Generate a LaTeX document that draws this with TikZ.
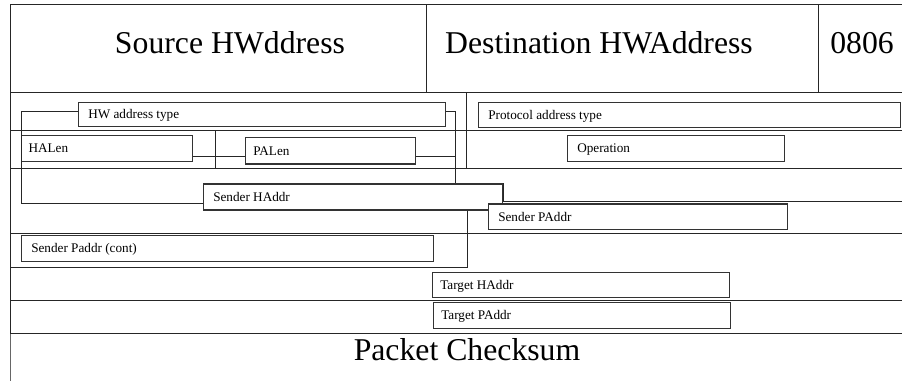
\documentclass[tikz,border=0pt]{standalone}
\usepackage{fontspec}
\setmainfont{Liberation Serif}
\begin{document}
\begin{tikzpicture}[x=0.75pt,y=-0.75pt,
  rule/.style={draw=black!85, line width=0.75pt},
  wire/.style={draw=black!85, line width=0.75pt},
  fieldbox/.style={draw=black!80, line width=0.9pt, fill=white, rectangle,
    inner sep=0pt, anchor=north west},
  fieldtxt/.style={anchor=west, inner sep=0pt,
    font=\fontsize{9.9}{12}\selectfont, text height=6.5pt, text depth=0pt},
  bigtxt/.style={anchor=base, inner sep=0pt, font=\fontsize{23.8}{28}\selectfont}]
\useasboundingbox (0,0) rectangle (902,381);

% frame and row rules
\draw[rule] (902,5) -- (10,5) -- (10,333);
\draw[draw=black!60, line width=0.75pt] (10,333) -- (10,381);
\draw[rule] (426,5) -- (426,93);
\draw[rule] (818,5) -- (818,93);
\draw[rule] (10,93) -- (902,93);
\draw[rule] (466,93) -- (466,168);
\draw[rule] (10,131) -- (902,131);
\draw[rule] (215,131) -- (215,168);
\draw[rule] (10,168) -- (902,168);
\draw[rule] (10,233) -- (902,233);
\draw[rule] (10,300) -- (902,300);
\draw[rule] (10,333) -- (902,333);

% header texts
\node[bigtxt] (src) at (230,53.3) {Source HWddress};
\node[bigtxt] (dst) at (599,53.3) {Destination HWAddress};
\node[bigtxt] (etype) at (862,53.3) {0806};
\node[bigtxt] (csum) at (467,360) {Packet Checksum};

% field boxes
\node[fieldbox, minimum width=275.25pt, minimum height=18pt] (hwtype) at (78,102) {};
\node[fieldbox, minimum width=316.5pt, minimum height=18.75pt] (prtype) at (478,102) {};
\node[fieldbox, minimum width=128.25pt, minimum height=19.3pt] (halen) at (21,135) {};
\node[fieldbox, minimum width=127.5pt, minimum height=19.5pt] (palen) at (245,137.3) {};
\node[fieldbox, minimum width=162.75pt, minimum height=19.3pt] (oper) at (567,135) {};
\node[fieldbox, minimum width=224.25pt, minimum height=19.5pt] (shaddr) at (203,183.3) {};

% connector attachment points
\coordinate (k) at (455,0);
\coordinate (hwW) at ([yshift=2.5pt]hwtype.west);
\coordinate (hwE) at ([yshift=2.5pt]hwtype.east);
\coordinate (haE) at ([yshift=-5.9pt]halen.east);
\coordinate (shW) at ([yshift=-4.8pt]shaddr.west);

% connectors between the fields
\draw[wire] (hwW) -- (hwW -| halen.west) |- (shW);
\draw[wire] (hwE) -| (k |- shaddr.north);
\draw[wire] (haE) -- (haE -| palen.west);
\draw[wire] (haE -| palen.east) -- (haE -| k);
\draw[rule] (shaddr.north east) |- (902,201);
\draw[rule] (467,0 |- shaddr.south) -- (467,267) -- (10,267);

\node[fieldbox, minimum width=224.25pt, minimum height=19.3pt] (spaddr) at (488,203.3) {};
\node[fieldbox, minimum width=309pt, minimum height=19.3pt] (spcont) at (21,235) {};
\node[fieldbox, minimum width=222.75pt, minimum height=18.75pt] (thaddr) at (432,272) {};
\node[fieldbox, minimum width=222.75pt, minimum height=19.5pt] (tpaddr) at (433,302) {};

% field labels
\node[fieldtxt] (hwtype-t) at ([xshift=7.5pt]hwtype.west) {HW address type};
\node[fieldtxt] (prtype-t) at ([xshift=7.5pt]prtype.west) {Protocol address type};
\node[fieldtxt] (halen-t) at ([xshift=5.5pt]halen.west) {HALen};
\node[fieldtxt] (palen-t) at ([xshift=6pt]palen.west) {PALen};
\node[fieldtxt] (oper-t) at ([xshift=7.5pt]oper.west) {Operation};
\node[fieldtxt] (shaddr-t) at ([xshift=7.5pt]shaddr.west) {Sender HAddr};
\node[fieldtxt] (spaddr-t) at ([xshift=7.5pt]spaddr.west) {Sender PAddr};
\node[fieldtxt] (spcont-t) at ([xshift=7.5pt]spcont.west) {Sender Paddr (cont)};
\node[fieldtxt] (thaddr-t) at ([xshift=6pt]thaddr.west) {Target HAddr};
\node[fieldtxt] (tpaddr-t) at ([xshift=6pt]tpaddr.west) {Target PAddr};
\end{tikzpicture}
\end{document}
